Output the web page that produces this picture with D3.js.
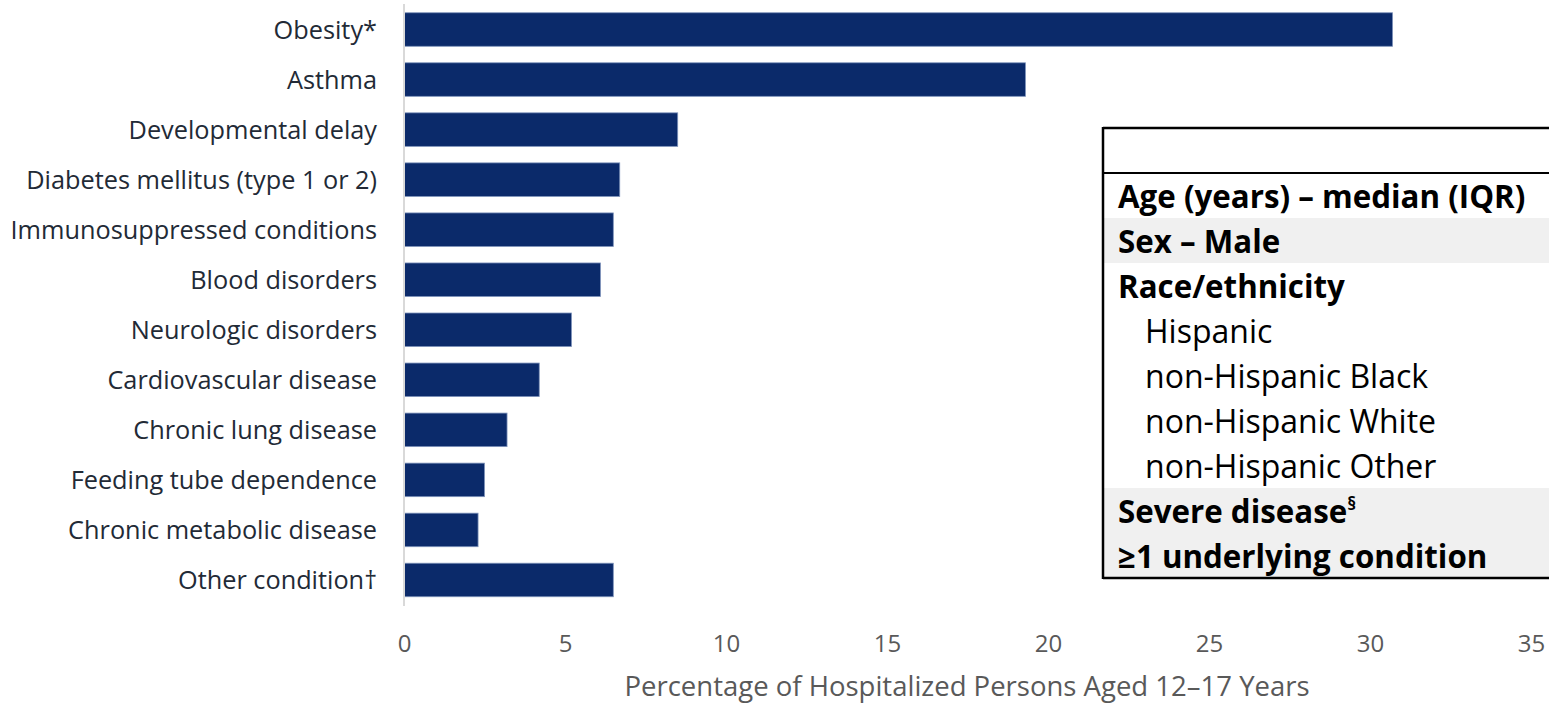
<!DOCTYPE html>
<html>
<head>
<meta charset="utf-8">
<script src="https://cdn.jsdelivr.net/npm/d3@7"></script>
<style>
  html, body { margin: 0; padding: 0; background: #ffffff; }
  svg { display: block; }
</style>
</head>
<body>
<svg id="chart" width="1549" height="703"></svg>
<script>
// Underlying conditions among hospitalized persons aged 12–17 years (%)
const categories = [
  "Obesity*",
  "Asthma",
  "Developmental delay",
  "Diabetes mellitus (type 1 or 2)",
  "Immunosuppressed conditions",
  "Blood disorders",
  "Neurologic disorders",
  "Cardiovascular disease",
  "Chronic lung disease",
  "Feeding tube dependence",
  "Chronic metabolic disease",
  "Other condition\u2020"
];
const percentages = [30.7, 19.3, 8.5, 6.7, 6.5, 6.1, 5.2, 4.2, 3.2, 2.5, 2.3, 6.5];

const xTicks = [0, 5, 10, 15, 20, 25, 30, 35];
const xTitle = "Percentage of Hospitalized Persons Aged 12\u201317 Years";

// Characteristics panel: top-level rows and the race/ethnicity sub-rows
const panelRows = [
  "Age (years) \u2013 median (IQR)",
  "Sex \u2013 Male",
  "Race/ethnicity",
  "Hispanic",
  "non-Hispanic Black",
  "non-Hispanic White",
  "non-Hispanic Other",
  "Severe disease",
  "\u22651 underlying condition"
];
const raceSubgroups = ["Hispanic", "non-Hispanic Black", "non-Hispanic White", "non-Hispanic Other"];

const svg = d3.select("#chart");
const FONT = "'Open Sans', 'Noto Sans', sans-serif";

const x = d3.scaleLinear().domain([0, 35]).range([404, 1531]);
const y = d3.scaleBand()
  .domain(categories)
  .range([4.5, 605])
  .paddingInner(0.33)
  .paddingOuter(0.165);

// Bars
svg.append("g")
  .selectAll("rect")
  .data(categories)
  .join("rect")
  .attr("x", x(0))
  .attr("y", d => y(d))
  .attr("width", (d, i) => x(percentages[i]) - x(0))
  .attr("height", y.bandwidth())
  .attr("fill", "#0b2a6a")
  .attr("stroke", "#7d92ba")
  .attr("stroke-width", 0.8);

// Vertical baseline
svg.append("line")
  .attr("x1", x(0)).attr("x2", x(0))
  .attr("y1", 4).attr("y2", 606)
  .attr("stroke", "#d9d9d9")
  .attr("stroke-width", 2);

// Category labels
const yAxis = d3.axisLeft(y).tickSize(0).tickPadding(0);
const gy = svg.append("g")
  .attr("transform", "translate(377,0)")
  .call(yAxis);
gy.select(".domain").remove();
gy.selectAll("text")
  .attr("font-family", FONT)
  .attr("font-size", 25.3)
  .attr("fill", "#222a36")
  .attr("dy", "0.36em");

// X axis tick labels
const xAxis = d3.axisBottom(x).tickValues(xTicks).tickSize(0).tickPadding(0);
const gx = svg.append("g")
  .attr("transform", "translate(0,635)")
  .call(xAxis);
gx.select(".domain").remove();
gx.selectAll("text")
  .attr("font-family", FONT)
  .attr("font-size", 24)
  .attr("fill", "#595959")
  .attr("dy", "0.72em");

// X axis title
svg.append("text")
  .attr("x", 967)
  .attr("y", 696)
  .attr("text-anchor", "middle")
  .attr("font-family", FONT)
  .attr("font-size", 27.5)
  .attr("fill", "#595959")
  .text(xTitle);

// Characteristics panel
const panelLeft = 1103, panelTop = 128, headerBottom = 173, rowH = 45;
const panel = svg.append("g");
const panelBottom = headerBottom + rowH * panelRows.length;

panel.append("rect")
  .attr("x", panelLeft).attr("y", panelTop)
  .attr("width", 1549 - panelLeft + 10).attr("height", panelBottom - panelTop)
  .attr("fill", "#ffffff");

const shaded = ["Sex \u2013 Male", "Severe disease", "\u22651 underlying condition"];
panel.selectAll("rect.shade")
  .data(panelRows.map((r, i) => ({ r, i })).filter(d => shaded.includes(d.r)))
  .join("rect")
  .attr("class", "shade")
  .attr("x", panelLeft)
  .attr("y", d => headerBottom + d.i * rowH)
  .attr("width", 1549 - panelLeft + 10)
  .attr("height", rowH)
  .attr("fill", "#f0f0f0");

const rowText = panel.selectAll("text.row")
  .data(panelRows)
  .join("text")
  .attr("class", "row")
  .attr("x", d => raceSubgroups.includes(d) ? 1145 : 1118)
  .attr("y", (d, i) => headerBottom + i * rowH + 35)
  .attr("font-family", FONT)
  .attr("font-size", d => raceSubgroups.includes(d) ? 32 : 31.3)
  .attr("font-weight", d => raceSubgroups.includes(d) ? 400 : 700)
  .attr("fill", "#000000");

rowText.append("tspan").text(d => d);
rowText.filter(d => d === "Severe disease")
  .append("tspan")
  .attr("font-size", 18)
  .attr("dy", -13)
  .text("\u00a7");

// Panel borders
panel.append("line")
  .attr("x1", panelLeft).attr("x2", 1560)
  .attr("y1", panelTop).attr("y2", panelTop)
  .attr("stroke", "#000").attr("stroke-width", 2.5);
panel.append("line")
  .attr("x1", panelLeft).attr("x2", 1560)
  .attr("y1", headerBottom).attr("y2", headerBottom)
  .attr("stroke", "#000").attr("stroke-width", 2);
panel.append("line")
  .attr("x1", panelLeft).attr("x2", 1560)
  .attr("y1", panelBottom).attr("y2", panelBottom)
  .attr("stroke", "#000").attr("stroke-width", 2.5);
panel.append("line")
  .attr("x1", panelLeft).attr("x2", panelLeft)
  .attr("y1", panelTop - 1).attr("y2", panelBottom + 1)
  .attr("stroke", "#000").attr("stroke-width", 2.5);
</script>
</body>
</html>
